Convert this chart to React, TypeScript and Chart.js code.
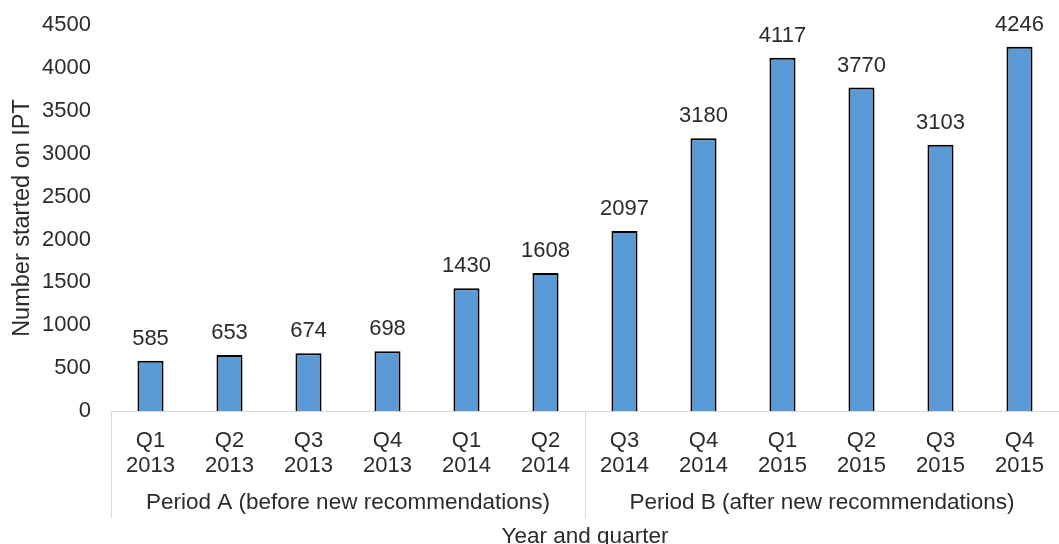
import React, { useEffect, useRef } from "react";
import { Chart, registerables } from "chart.js";

Chart.register(...registerables);

const quarters = ["Q1", "Q2", "Q3", "Q4", "Q1", "Q2", "Q3", "Q4", "Q1", "Q2", "Q3", "Q4"];
const years = ["2013", "2013", "2013", "2013", "2014", "2014", "2014", "2014", "2015", "2015", "2015", "2015"];
const started = [585, 653, 674, 698, 1430, 1608, 2097, 3180, 4117, 3770, 3103, 4246];
const periods = ["Period A (before new recommendations)", "Period B (after new recommendations)"];
const periodSizes = [6, 6];
const yMin = 0;
const yMax = 4500;
const yStep = 500;
const xTitle = "Year and quarter";
const yTitle = "Number started on IPT";

const FONT = "'Liberation Sans', Arial, sans-serif";
const TEXT = "#2b2b2b";
const AXIS = "#d9d9d9";

const decorPlugin = {
  id: "decor",
  afterDraw(chart: any) {
    const { ctx, chartArea } = chart;
    const xs = chart.scales.x;
    ctx.save();
    // axis line over bar bottoms
    ctx.strokeStyle = AXIS;
    ctx.lineWidth = 1;
    const by = Math.round(chartArea.bottom) + 0.5;
    ctx.beginPath();
    ctx.moveTo(chartArea.left, by);
    ctx.lineTo(chartArea.right, by);
    ctx.stroke();
    // data labels
    const meta = chart.getDatasetMeta(0);
    ctx.font = `22px ${FONT}`;
    ctx.fillStyle = TEXT;
    ctx.textAlign = "center";
    ctx.textBaseline = "middle";
    meta.data.forEach((bar: any, i: number) => {
      ctx.fillText(String(started[i]), bar.x, bar.y - 22);
    });
    // group separators and labels
    const step = xs.getPixelForValue(1) - xs.getPixelForValue(0);
    let idx = 0;
    ctx.font = `22.5px ${FONT}`;
    periods.forEach((p, g) => {
      const start = xs.getPixelForValue(idx) - step / 2;
      const end = xs.getPixelForValue(idx + periodSizes[g] - 1) + step / 2;
      const sx = Math.round(start) + 0.5;
      ctx.beginPath();
      ctx.moveTo(sx, chartArea.bottom);
      ctx.lineTo(sx, 518);
      ctx.stroke();
      const ex = Math.round(end) + 0.5;
      ctx.beginPath();
      ctx.moveTo(ex, chartArea.bottom);
      ctx.lineTo(ex, 518);
      ctx.stroke();
      ctx.fillStyle = TEXT;
      ctx.fillText(p, (start + end) / 2, 503);
      idx += periodSizes[g];
    });
    ctx.restore();
  },
};

export default function App() {
  const ref = useRef<HTMLCanvasElement>(null);
  useEffect(() => {
    if (!ref.current) return;
    const chart = new Chart(ref.current, {
      type: "bar",
      data: {
        labels: quarters.map((q, i) => [q, years[i]]),
        datasets: [
          {
            data: started,
            backgroundColor: "#5b9bd5",
            borderColor: "#000000",
            borderWidth: 2,
            borderSkipped: "start",
            barPercentage: 0.33,
            categoryPercentage: 1,
          },
        ],
      },
      options: {
        responsive: false,
        animation: false,
        layout: { padding: { top: 25, right: -3, left: 0, bottom: 0 } },
        plugins: {
          legend: { display: false },
          tooltip: { enabled: false },
          title: { display: false },
        },
        scales: {
          x: {
            grid: { display: false, drawTicks: false },
            border: { display: true, color: AXIS, width: 1 },
            ticks: {
              color: TEXT,
              font: { family: FONT, size: 22, lineHeight: 25 / 22 },
              padding: 17,
              maxRotation: 0,
              autoSkip: false,
            },
            title: {
              display: true,
              text: xTitle,
              color: TEXT,
              font: { family: FONT, size: 22.5, lineHeight: 1.2 },
              padding: { top: 0, bottom: -6 },
            },
            afterFit(scale: any) {
              scale.height = 133;
              scale.paddingLeft = 0;
              scale.paddingRight = 0;
            },
          },
          y: {
            min: yMin,
            max: yMax,
            grid: { display: false, drawTicks: false },
            border: { display: false },
            ticks: {
              stepSize: yStep,
              color: TEXT,
              font: { family: FONT, size: 22 },
              padding: 20,
              callback: (v: any) => String(v),
            },
            title: {
              display: true,
              text: yTitle,
              color: TEXT,
              font: { family: FONT, size: 23.5, lineHeight: 1.2 },
              padding: { top: 8, bottom: 0 },
            },
            afterFit(scale: any) {
              scale.width = 111;
              scale.paddingTop = 0;
              scale.paddingBottom = 0;
            },
          },
        },
      },
      plugins: [decorPlugin],
    });
    return () => chart.destroy();
  }, []);
  return (
    <div style={{ position: "absolute", left: 0, top: 0, width: 1059, height: 544, background: "#fff" }}>
      <canvas ref={ref} width={1059} height={544} style={{ display: "block" }} />
    </div>
  );
}
